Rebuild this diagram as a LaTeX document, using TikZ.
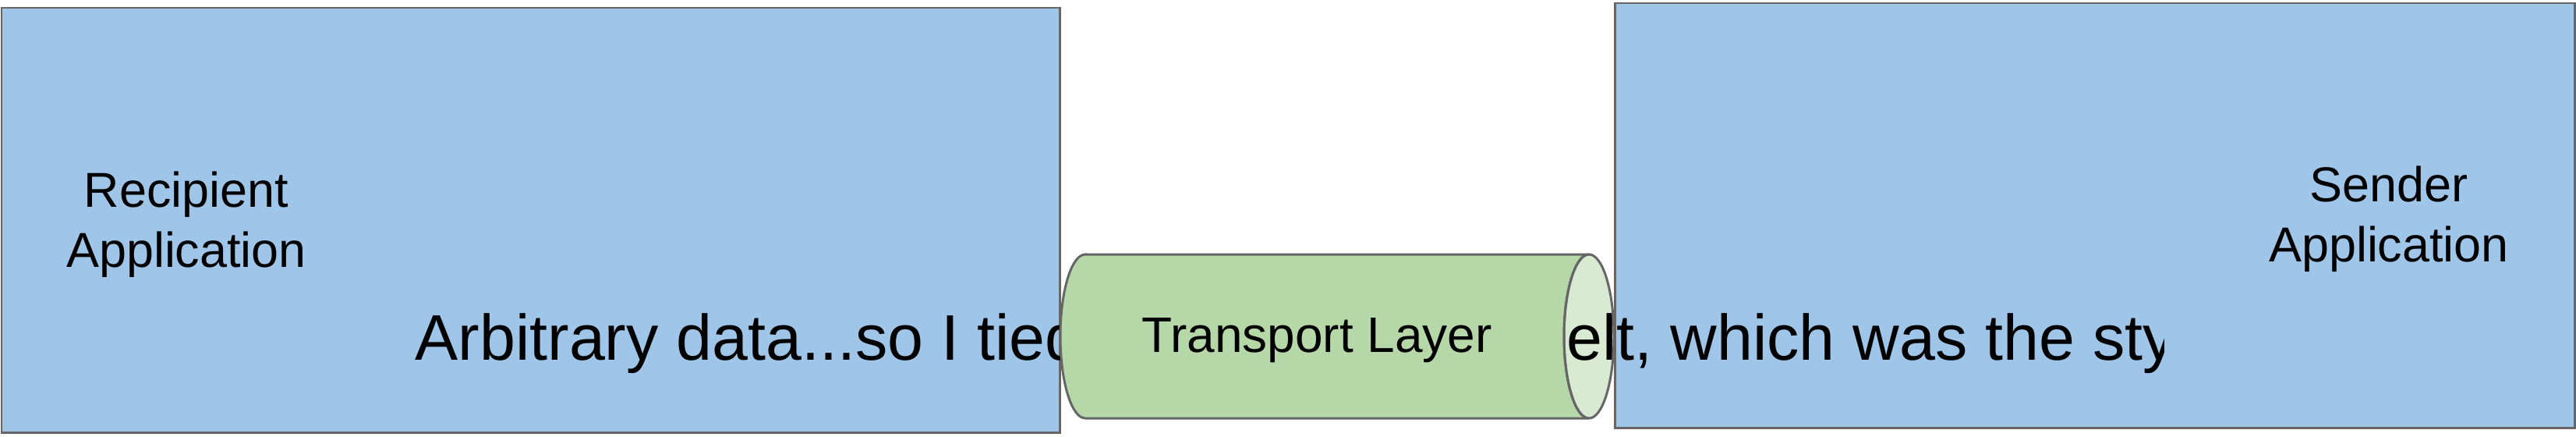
\documentclass[tikz,border=0pt]{standalone}
\usepackage{fontspec}
\setmainfont{Liberation Sans}
\usepackage{tikz}
\usetikzlibrary{positioning}
\usetikzlibrary{calc}
\definecolor{appblue}{HTML}{9FC5E8}
\definecolor{pipegreen}{HTML}{B6D7A8}
\definecolor{pipeend}{HTML}{D9EAD3}
\definecolor{edgegrey}{HTML}{666666}
\tikzstyle{appbox}=[draw=edgegrey,line width=0.85pt,shape=rectangle,fill=appblue,inner sep=0pt]
\tikzstyle{applabel}=[black,align=center,inner sep=0pt,font=\fontsize{17.9pt}{21.9pt}\selectfont]
\tikzstyle{pipeline}=[draw=edgegrey,line width=0.85pt]
\tikzstyle{msgtext}=[black,anchor=base west,inner sep=0pt,font=\fontsize{23.5pt}{28pt}\selectfont]

\begin{document}
\begin{tikzpicture}
	\useasboundingbox (0, 0) rectangle (33.04, 5.59);
	
	% Applications
	\node[appbox, minimum width=13.57cm, minimum height=5.44cm] (recv) at (6.805, 2.77) {};
	\node[appbox, minimum width=12.31cm, minimum height=5.44cm] (send) at (26.865, 2.83) {};
	\node[applabel] (recvlabel) at (2.39, 2.71) {Recipient\\Application};
	\node[applabel] (sendlabel) at (30.64, 2.78) {Sender\\Application};
	
	% Transport layer
	\coordinate (tl) at (13.92, 2.33);
	\coordinate (tr) at (20.38, 2.33);
	\coordinate (bl) at (13.92, 0.23);
	\coordinate (endc) at (20.38, 1.28);
	\fill[pipeend] (endc) ellipse [x radius=0.32cm, y radius=1.05cm];
	
	% Message
	\begin{scope}
	\clip (recv.north west) rectangle (27.75, 0);
	\node[msgtext] (msgleft) at (5.32, 0.98) {Arbitrary data...so I tied};
	\node[msgtext] (msgright) at (20.09, 0.98) {elt, which was the sty};
	\end{scope}
	
	\filldraw[pipeline, fill=pipegreen] (tl) -- (tr) arc[start angle=90, end angle=270, x radius=0.32cm, y radius=1.05cm] -- (bl) arc[start angle=270, end angle=90, x radius=0.32cm, y radius=1.05cm] -- cycle;
	\draw[pipeline] (endc) ellipse [x radius=0.32cm, y radius=1.05cm];
	\node[black, font=\fontsize{18.2pt}{22pt}\selectfont] (pipelabel) at (16.89, 1.23) {Transport Layer};
	
\end{tikzpicture}
\end{document}
